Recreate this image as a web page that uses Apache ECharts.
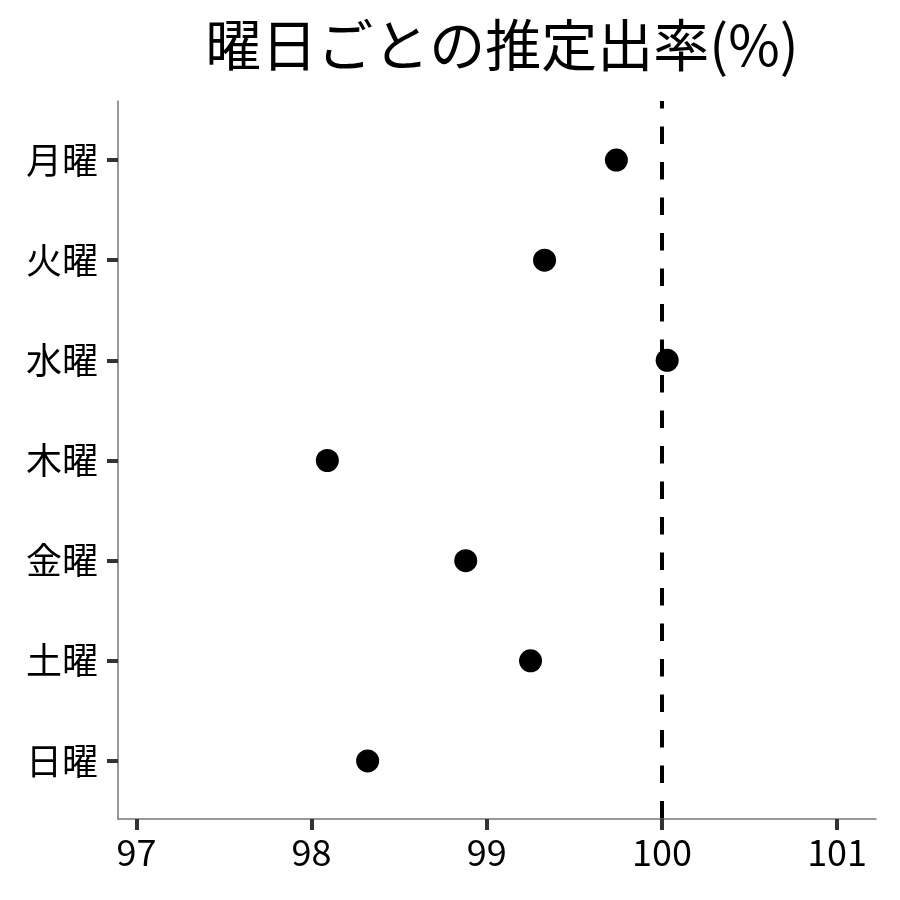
<!DOCTYPE html>
<html>
<head>
<meta charset="utf-8">
<script src="https://cdn.jsdelivr.net/npm/echarts@6/dist/echarts.min.js"></script>
<style>
  html, body { margin: 0; padding: 0; background: #fff; }
  #chart { width: 900px; height: 900px; }
</style>
</head>
<body>
<div id="chart"></div>
<script>
// 曜日ごとの推定出率
const days = ['月曜', '火曜', '水曜', '木曜', '金曜', '土曜', '日曜'];
const rates = [99.74, 99.33, 100.03, 98.09, 98.88, 99.25, 98.32];
const xTicks = [97, 98, 99, 100, 101];
const refValue = 100;

const FONT = '"Noto Sans CJK JP", "Noto Sans", sans-serif';

function initChart() {
    const chartDom = document.getElementById('chart');
    const chart = echarts.init(chartDom);

    const points = rates.map(function(v, i) { return [v, i]; });
    const yIdx = days.map(function(d, i) { return i; });

    const option = {
        backgroundColor: '#fff',
        animation: false,
        title: {
            text: '曜日ごとの推定出率(%)',
            left: 497,
            textAlign: 'center',
            top: 12,
            textStyle: {
                fontFamily: FONT,
                fontSize: 56,
                fontWeight: 'normal',
                color: '#000'
            }
        },
        grid: {
            left: 118,
            right: 24,
            top: 101,
            bottom: 81
        },
        xAxis: {
            type: 'value',
            min: 96.895,
            max: 101.222,
            splitLine: { show: false },
            axisLine: {
                onZero: false,
                lineStyle: { color: '#777', width: 1.5 }
            },
            axisTick: {
                customValues: xTicks,
                length: 11,
                lineStyle: { color: '#333', width: 4 }
            },
            axisLabel: {
                customValues: xTicks,
                margin: 15,
                fontFamily: FONT,
                fontSize: 36,
                color: '#000'
            }
        },
        yAxis: {
            type: 'value',
            inverse: true,
            min: -0.59,
            max: 6.58,
            splitLine: { show: false },
            axisLine: {
                onZero: false,
                lineStyle: { color: '#777', width: 1.5 }
            },
            axisTick: {
                customValues: yIdx,
                length: 11,
                lineStyle: { color: '#333', width: 4 }
            },
            axisLabel: {
                customValues: yIdx,
                margin: 20,
                fontFamily: FONT,
                fontSize: 36,
                color: '#000',
                formatter: function(v) { return days[Math.round(v)]; }
            }
        },
        series: [
            {
                name: '推定出率',
                type: 'scatter',
                data: points,
                symbolSize: 23,
                itemStyle: { color: '#000', opacity: 1 },
                markLine: {
                    silent: true,
                    symbol: 'none',
                    label: { show: false },
                    lineStyle: {
                        color: '#000',
                        width: 4,
                        opacity: 1,
                        type: [17.5, 18],
                        dashOffset: 10.1
                    },
                    data: [{ xAxis: refValue }]
                }
            }
        ]
    };

    chart.setOption(option);
    window.addEventListener('resize', function() { chart.resize(); });
}

initChart();
</script>
</body>
</html>
